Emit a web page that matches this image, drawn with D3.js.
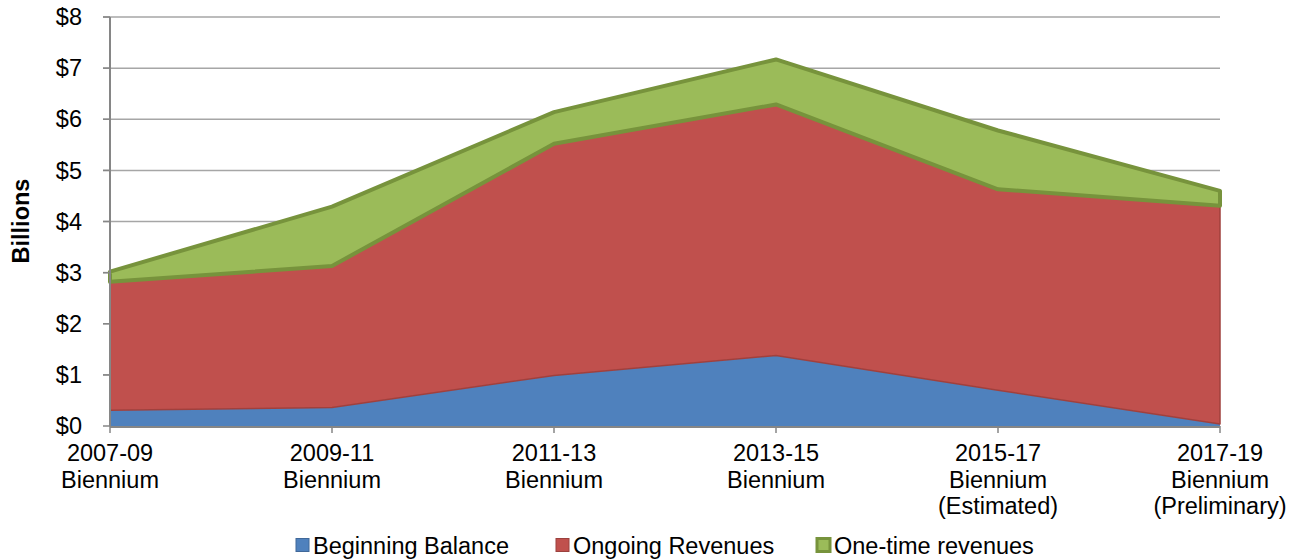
<!DOCTYPE html>
<html lang="en">
<head>
  <meta charset="UTF-8">
  <title>Biennium Resources</title>
  <style>
    body { margin: 0; background: #fff; }
    svg { display: block; font-family: "Liberation Sans", Arial, sans-serif; }
    .grid line { stroke: #a6a6a6; stroke-width: 1.5px; }
    .tick-label { font-size: 23.5px; fill: #000; }
  </style>
</head>
<body>
  <div id="chart"></div>

  <script src="https://d3js.org/d3.v7.min.js"></script>
  <script>
    const width = 1296, height = 560;

    // data (billions of dollars)
    const categories = ["2007-09", "2009-11", "2011-13", "2013-15", "2015-17", "2017-19"];
    const categoryLines = [
      ["2007-09", "Biennium"],
      ["2009-11", "Biennium"],
      ["2011-13", "Biennium"],
      ["2013-15", "Biennium"],
      ["2015-17", "Biennium", "(Estimated)"],
      ["2017-19", "Biennium", "(Preliminary)"]
    ];
    const beginningBalance = [0.31, 0.36, 0.99, 1.38, 0.70, 0.04];
    const ongoingRevenues  = [2.51, 2.77, 4.53, 4.91, 3.93, 4.27];
    const oneTimeRevenues  = [0.20, 1.16, 0.62, 0.88, 1.15, 0.29];
    const yTicks = [0, 1, 2, 3, 4, 5, 6, 7, 8];

    const seriesNames = ["Beginning Balance", "Ongoing Revenues", "One-time revenues"];
    const fills   = ["#4f81bd", "#c0504d", "#9bbb59"];
    const strokes = ["#4f81bd", "#a0403d", "#77933c"];
    const strokeW = [0, 1.5, 4];

    const rows = categories.map((c, i) => ({
      cat: c,
      "Beginning Balance": beginningBalance[i],
      "Ongoing Revenues": ongoingRevenues[i],
      "One-time revenues": oneTimeRevenues[i]
    }));

    const plotL = 110, plotR = 1220, plotT = 17, plotB = 426;

    const svg = d3.select("#chart").append("svg")
      .attr("width", width)
      .attr("height", height);

    const x = d3.scalePoint().domain(categories).range([plotL, plotR]);
    const y = d3.scaleLinear().domain([0, 8]).range([plotB, plotT]);

    // gridlines
    svg.append("g").attr("class", "grid")
      .selectAll("line")
      .data(yTicks.filter(d => d > 0))
      .enter().append("line")
      .attr("x1", plotL - 7).attr("x2", plotR)
      .attr("y1", d => y(d)).attr("y2", d => y(d));

    // stacked areas
    const stacked = d3.stack().keys(seriesNames)(rows);
    const area = d3.area()
      .x(d => x(d.data.cat))
      .y0(d => y(d[0]))
      .y1(d => y(d[1]));

    svg.append("g").selectAll("path")
      .data(stacked)
      .enter().append("path")
      .attr("d", area)
      .attr("fill", (d, i) => fills[i])
      .attr("stroke", (d, i) => strokes[i])
      .attr("stroke-width", (d, i) => strokeW[i])
      .attr("stroke-linejoin", "round");

    // y axis
    svg.append("line")
      .attr("x1", plotL).attr("x2", plotL)
      .attr("y1", plotT).attr("y2", plotB)
      .attr("stroke", "#868686").attr("stroke-width", 2);
    svg.append("g").selectAll("line")
      .data(yTicks)
      .enter().append("line")
      .attr("x1", plotL - 7).attr("x2", plotL)
      .attr("y1", d => y(d)).attr("y2", d => y(d))
      .attr("stroke", "#868686").attr("stroke-width", 1.5);
    svg.append("g").selectAll("text")
      .data(yTicks)
      .enter().append("text")
      .attr("class", "tick-label")
      .attr("x", 82)
      .attr("y", d => y(d))
      .attr("dy", "0.35em")
      .attr("text-anchor", "end")
      .text(d => "$" + d);

    // x axis
    svg.append("line")
      .attr("x1", plotL).attr("x2", plotR)
      .attr("y1", plotB + 1).attr("y2", plotB + 1)
      .attr("stroke", "#868686").attr("stroke-width", 2);
    svg.append("g").selectAll("line")
      .data(categories)
      .enter().append("line")
      .attr("x1", d => x(d)).attr("x2", d => x(d))
      .attr("y1", plotB).attr("y2", plotB + 7)
      .attr("stroke", "#868686").attr("stroke-width", 1.5);
    const xl = svg.append("g").selectAll("text")
      .data(categories)
      .enter().append("text")
      .attr("class", "tick-label")
      .attr("text-anchor", "middle")
      .attr("x", d => x(d))
      .attr("y", 461);
    xl.selectAll("tspan")
      .data((d, i) => categoryLines[i])
      .enter().append("tspan")
      .attr("x", function () { return d3.select(this.parentNode).attr("x"); })
      .attr("dy", (d, i) => i === 0 ? 0 : 26.5)
      .text(d => d);

    // axis title
    svg.append("text")
      .attr("transform", "translate(29,221) rotate(-90)")
      .attr("text-anchor", "middle")
      .attr("font-weight", "bold")
      .attr("font-size", "23.5px")
      .text("Billions");

    // legend
    const legendX = [295, 555, 816];
    const lg = svg.append("g").selectAll("g")
      .data(seriesNames)
      .enter().append("g")
      .attr("transform", (d, i) => `translate(${legendX[i]},537)`);
    lg.append("rect")
      .attr("x", 1).attr("y", 1.5)
      .attr("width", 13).attr("height", 13)
      .attr("fill", (d, i) => fills[i])
      .attr("stroke", (d, i) => i === 2 ? "#77933c" : d3.color(fills[i]).darker(0.6))
      .attr("stroke-width", (d, i) => i === 2 ? 3 : 1);
    lg.append("text")
      .attr("x", 18).attr("y", 16.5)
      .attr("font-size", "23.5px")
      .text(d => d);
  </script>
</body>
</html>
